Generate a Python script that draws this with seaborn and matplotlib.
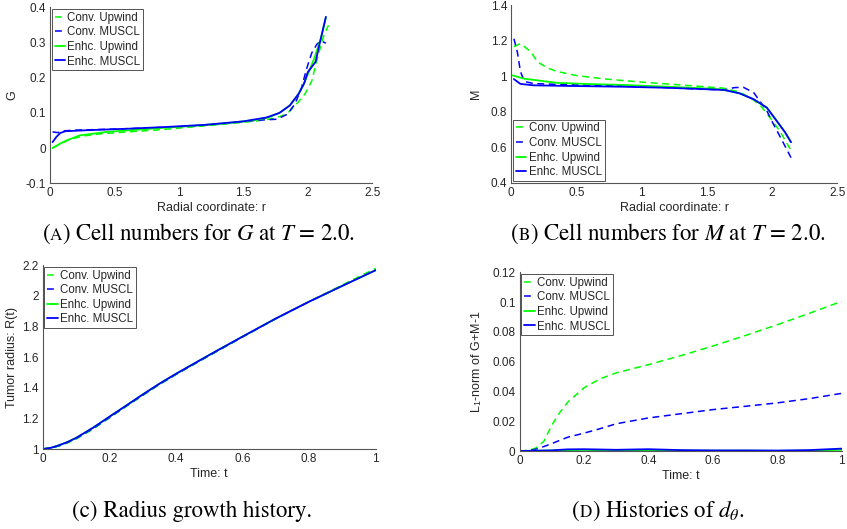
import numpy as np
import pandas as pd
import matplotlib
matplotlib.use("Agg")
import matplotlib.pyplot as plt
import seaborn as sns

# ---------------- data ----------------
series_names = ["Conv. Upwind", "Conv. MUSCL", "Enhc. Upwind", "Enhc. MUSCL"]

# Panel A: G vs r
rA_cu = [0.02, 0.08, 0.15, 0.25, 0.4, 0.6, 0.85, 1.1, 1.35, 1.6, 1.75, 1.84, 1.91, 1.98, 2.03, 2.07, 2.12, 2.16]
GA_cu = [0.0, 0.012, 0.024, 0.034, 0.041, 0.046, 0.052, 0.060, 0.068, 0.077, 0.085, 0.098, 0.124, 0.155, 0.19, 0.25, 0.316, 0.349]
rA_cm = [0.02, 0.06, 0.1, 0.2, 0.5, 0.9, 1.2, 1.5, 1.65, 1.76, 1.84, 1.9, 1.95, 1.99, 2.03, 2.07, 2.1, 2.14]
GA_cm = [0.046, 0.044, 0.049, 0.051, 0.054, 0.059, 0.065, 0.075, 0.080, 0.082, 0.096, 0.125, 0.17, 0.225, 0.27, 0.295, 0.305, 0.298]
rA_eu = [0.02, 0.08, 0.13, 0.23, 0.44, 0.85, 1.1, 1.35, 1.6, 1.7, 1.78, 1.86, 1.93, 1.97, 2.0, 2.05, 2.1, 2.14]
GA_eu = [0.0, 0.013, 0.022, 0.036, 0.046, 0.057, 0.063, 0.070, 0.080, 0.088, 0.100, 0.121, 0.155, 0.183, 0.21, 0.255, 0.31, 0.37]
rA_em = [0.02, 0.05, 0.08, 0.12, 0.3, 0.6, 0.9, 1.2, 1.5, 1.68, 1.78, 1.86, 1.93, 1.97, 2.0, 2.06, 2.1, 2.14]
GA_em = [0.017, 0.032, 0.043, 0.048, 0.051, 0.055, 0.060, 0.066, 0.076, 0.087, 0.100, 0.121, 0.155, 0.183, 0.216, 0.245, 0.31, 0.373]

# Panel B: M vs r
rB_cu = [0.02, 0.07, 0.15, 0.2, 0.28, 0.35, 0.5, 0.7, 1.0, 1.3, 1.63, 1.75, 1.84, 1.91, 1.98, 2.06, 2.15]
MB_cu = [1.165, 1.183, 1.137, 1.08, 1.045, 1.026, 1.003, 0.985, 0.966, 0.95, 0.932, 0.91, 0.875, 0.835, 0.77, 0.69, 0.575]
rB_cm = [0.02, 0.046, 0.07, 0.1, 0.17, 0.4, 0.86, 1.2, 1.5, 1.63, 1.71, 1.78, 1.86, 1.96, 2.01, 2.07, 2.145]
MB_cm = [1.21, 1.137, 1.026, 0.97, 0.958, 0.952, 0.945, 0.935, 0.925, 0.922, 0.935, 0.937, 0.906, 0.804, 0.73, 0.647, 0.541]
rB_eu = [0.01, 0.1, 0.35, 0.6, 0.86, 1.2, 1.5, 1.63, 1.75, 1.86, 1.96, 2.035, 2.1, 2.145]
MB_eu = [1.004, 0.985, 0.962, 0.955, 0.950, 0.94, 0.93, 0.924, 0.903, 0.869, 0.822, 0.748, 0.683, 0.628]
rB_em = [0.02, 0.07, 0.17, 0.4, 0.86, 1.2, 1.5, 1.63, 1.75, 1.86, 1.96, 2.035, 2.1, 2.145]
MB_em = [0.983, 0.956, 0.948, 0.945, 0.940, 0.934, 0.926, 0.922, 0.903, 0.869, 0.822, 0.748, 0.683, 0.628]

# Panel C: R(t)
tC = [0.0, 0.025, 0.05, 0.075, 0.1, 0.15, 0.2, 0.25, 0.3, 0.35, 0.4, 0.5, 0.6, 0.7, 0.8, 0.9, 1.0]
RC_cu = [1.0, 1.005, 1.02, 1.040, 1.065, 1.128, 1.202, 1.276, 1.348, 1.420, 1.485, 1.608, 1.730, 1.850, 1.962, 2.070, 2.178]
RC_cm = [1.0, 1.006, 1.022, 1.043, 1.068, 1.132, 1.205, 1.279, 1.351, 1.422, 1.487, 1.610, 1.731, 1.850, 1.960, 2.065, 2.168]
RC_eu = [1.0, 1.008, 1.025, 1.046, 1.072, 1.137, 1.210, 1.282, 1.355, 1.425, 1.490, 1.613, 1.733, 1.851, 1.961, 2.065, 2.167]
RC_em = [1.0, 1.008, 1.025, 1.046, 1.072, 1.137, 1.210, 1.282, 1.355, 1.425, 1.490, 1.613, 1.733, 1.851, 1.961, 2.064, 2.166]

# Panel D: L1-norm of G+M-1
tD = [0.0, 0.03, 0.05, 0.075, 0.1, 0.125, 0.15, 0.2, 0.25, 0.3, 0.4, 0.5, 0.6, 0.7, 0.8, 0.9, 1.0]
LD_cu = [0.0, 0.0005, 0.002, 0.0065, 0.0175, 0.026, 0.033, 0.0425, 0.0485, 0.0525, 0.058, 0.064, 0.0705, 0.0775, 0.0848, 0.0925, 0.1005]
LD_cm = [0.0, 0.0003, 0.0012, 0.003, 0.005, 0.0072, 0.0093, 0.012, 0.015, 0.0183, 0.0222, 0.025, 0.0278, 0.0300, 0.0323, 0.0352, 0.0387]
LD_eu = [0.0, 0.0001, 0.0002, 0.0003, 0.0004, 0.0005, 0.0006, 0.0007, 0.0006, 0.0004, 0.0003, 0.0002, 0.0002, 0.0002, 0.0001, 0.0002, 0.0008]
LD_em = [0.0, 0.0001, 0.0002, 0.0003, 0.0004, 0.0008, 0.0011, 0.0012, 0.0010, 0.0008, 0.0012, 0.0006, 0.0004, 0.0004, 0.0003, 0.0006, 0.0016]

captions = [
    [("(", 1.0), ("A", 0.74), (") Cell numbers for $G$ at $T$ = 2.0.", 1.0)],
    [("(", 1.0), ("B", 0.74), (") Cell numbers for $M$ at $T$ = 2.0.", 1.0)],
    [("(c) Radius growth history.", 1.0)],
    [("(", 1.0), ("D", 0.74), (") Histories of $d_\\theta$.", 1.0)],
]

# ---------------- style ----------------
sns.set_style("white")
plt.rcParams["font.family"] = ["Liberation Sans", "DejaVu Sans"]
plt.rcParams["mathtext.fontset"] = "stix"
plt.rcParams["axes.unicode_minus"] = False

GREEN = "#00ff00"
BLUE = "#0000ff"
DASH = (0, (4.5, 3.0))
styles = [(GREEN, DASH, 1.1), (BLUE, DASH, 1.1), (GREEN, "-", 1.3), (BLUE, "-", 1.3)]
AXC = "#262626"

W, H = 847, 529
fig = plt.figure(figsize=(W / 100, H / 100), dpi=100)

def px_axes(l, t, r, b):
    return fig.add_axes([l / W, 1 - b / H, (r - l) / W, (b - t) / H])

axA = px_axes(50, 7.3, 372.3, 183.3)
axB = px_axes(511.3, 5.0, 837.3, 182.7)
axC = px_axes(42.7, 265, 375.7, 449)
axD = px_axes(519.7, 272.3, 841.7, 451)

def draw(ax, xs, ys):
    for (x, y), name, (c, ls, lw) in zip(zip(xs, ys), series_names, styles):
        df = pd.DataFrame({"x": x, "y": y})
        sns.lineplot(data=df, x="x", y="y", ax=ax, color=c, linestyle=ls,
                     linewidth=lw, label=name, sort=False, errorbar=None)

draw(axA, [rA_cu, rA_cm, rA_eu, rA_em], [GA_cu, GA_cm, GA_eu, GA_em])
draw(axB, [rB_cu, rB_cm, rB_eu, rB_em], [MB_cu, MB_cm, MB_eu, MB_em])
draw(axC, [tC] * 4, [RC_cu, RC_cm, RC_eu, RC_em])
draw(axD, [tD] * 4, [LD_cu, LD_cm, LD_eu, LD_em])

fmt = matplotlib.ticker.FuncFormatter(lambda v, p: f"{v:g}")

def style_ax(ax, xlim, ylim, xticks, yticks, xlabel, ylabel, ylpad, legloc):
    ax.set_xlim(*xlim)
    ax.set_ylim(*ylim)
    ax.set_xticks(xticks)
    ax.set_yticks(yticks)
    ax.xaxis.set_major_formatter(fmt)
    ax.yaxis.set_major_formatter(fmt)
    for s in ["top", "right"]:
        ax.spines[s].set_visible(False)
    for s in ["left", "bottom"]:
        ax.spines[s].set_color("#555555")
        ax.spines[s].set_linewidth(0.8)
    ax.tick_params(direction="in", length=3, width=0.6, colors=AXC,
                   labelsize=8.5, pad=3)
    ax.set_xlabel(xlabel, fontsize=9, color=AXC, labelpad=2)
    ax.set_ylabel(ylabel, fontsize=9, color=AXC, labelpad=ylpad)
    ax.set_facecolor("white")
    leg = ax.legend(loc=legloc, fontsize=8.3, frameon=True, fancybox=False,
                    handlelength=0.9, handletextpad=0.2, labelspacing=0.22,
                    borderpad=0.25, borderaxespad=0.15)
    leg.get_frame().set_edgecolor(AXC)
    leg.get_frame().set_linewidth(0.7)
    for t in leg.get_texts():
        t.set_color(AXC)

style_ax(axA, (0, 2.5), (-0.1, 0.4), np.arange(0, 2.51, 0.5), np.arange(-0.1, 0.41, 0.1),
         "Radial coordinate: r", "G", 5, "upper left")
style_ax(axB, (0, 2.5), (0.4, 1.4), np.arange(0, 2.51, 0.5), np.arange(0.4, 1.41, 0.2),
         "Radial coordinate: r", "M", 6, "lower left")
style_ax(axC, (0, 1), (1, 2.2), np.arange(0, 1.01, 0.2), np.arange(1, 2.21, 0.2),
         "Time: t", "Tumor radius: R(t)", 3, "upper left")
style_ax(axD, (0, 1), (0, 0.12), np.arange(0, 1.01, 0.2), np.arange(0, 0.121, 0.02),
         "Time: t", r"L$_\mathregular{1}$-norm of G+M-1", 6, "upper left")

# ---------------- captions ----------------
renderer = fig.canvas.get_renderer()
cap_pos = [(199, 239.5), (668, 239.5), (192, 517), (658, 517)]
CAPSIZE = 16.5
for parts, (xc, yb) in zip(captions, cap_pos):
    texts = [fig.text(0, 1 - yb / H, s, fontsize=CAPSIZE * sc, family="STIXGeneral",
                      va="baseline", ha="left", color="black") for s, sc in parts]
    widths = [t.get_window_extent(renderer).width for t in texts]
    x = xc - sum(widths) / 2
    for t, w in zip(texts, widths):
        t.set_x(x / W)
        x += w

fig.savefig("out.png", dpi=100, facecolor="white")
